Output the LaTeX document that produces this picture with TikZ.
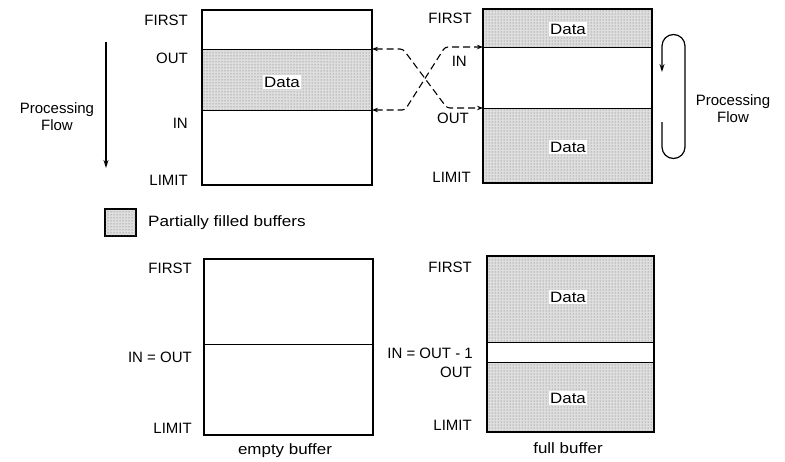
\documentclass[tikz,border=0pt]{standalone}
\usepackage{fontspec}
\setmainfont{Liberation Sans}
\usetikzlibrary{arrows.meta,patterns}
\begin{document}
\begin{tikzpicture}[x=1pt,y=-1pt,
  lbl/.style={font=\fontsize{15}{17}\selectfont, inner sep=0pt},
  datalbl/.style={font=\fontsize{15}{17}\selectfont, inner sep=1.5pt, fill=white},
  box/.style={draw, line width=1.3pt},
  sep/.style={draw, line width=1pt},
  shade/.style={fill=black!13, postaction={pattern=dots, pattern color=black!60}},
  link/.style={line width=1.1pt, dash pattern=on 7pt off 4pt, rounded corners=3pt, {Stealth[length=6pt,width=4.5pt]}-{Stealth[length=6pt,width=4.5pt]}},
  flow/.style={line width=1.2pt, -{Stealth[length=8pt,width=5pt]}}]
\useasboundingbox (0,0) rectangle (785,461);

% ---------- top-left buffer ----------
\fill[shade] (202,49) rectangle (372,110);
\draw[box] (202,10) rectangle (372,185);
\draw[sep] (202,49) -- (372,49);
\draw[sep] (202,110) -- (372,110);
\node[datalbl] (adata) at (282,82) {\scalebox{1.13}[1]{Data}};
\node[lbl, anchor=east] (afirst) at (188,20) {FIRST};
\node[lbl, anchor=east] (aout) at (188,58) {OUT};
\node[lbl, anchor=east] (ain) at (188,123) {IN};
\node[lbl, anchor=east] (alimit) at (188,180) {LIMIT};
\node[lbl, align=center] (aflow) at (57,117) {Processing\\Flow};
\coordinate (aflowtop) at (106,42);
\coordinate (aflowbot) at (106,168);
\draw[flow] (aflowtop) -- (aflowbot);

% ---------- top-right buffer ----------
\fill[shade] (483,9) rectangle (652,47);
\fill[shade] (483,108) rectangle (652,183);
\draw[box] (483,9) rectangle (652,183);
\draw[sep] (483,47) -- (652,47);
\draw[sep] (483,108) -- (652,108);
\node[datalbl] (bdata1) at (568,29) {\scalebox{1.13}[1]{Data}};
\node[datalbl] (bdata2) at (568,147) {\scalebox{1.13}[1]{Data}};
\node[lbl, anchor=east] (bfirst) at (472,18) {FIRST};
\node[lbl, anchor=east] (bin) at (467,61) {IN};
\node[lbl, anchor=east] (bout) at (469,118) {OUT};
\node[lbl, anchor=east] (blimit) at (471,177) {LIMIT};
\node[lbl, align=center] (bflow) at (733,109) {Processing\\Flow};
\coordinate (loopstart) at (662,122);
\coordinate (loopend) at (662,72);
\draw[flow] (loopstart) -- (662,147) arc (180:0:11.5) -- (685,46) arc (0:-180:11.5) -- (loopend);

% ---------- dashed links ----------
\coordinate (Aout) at (372,49);
\coordinate (Ain) at (372,110);
\coordinate (Bin) at (483,47);
\coordinate (Bout) at (483,108);
\draw[link] (Aout) -- ++(31,0) -- (447,108) -- (Bout);
\draw[link] (Ain) -- ++(33,0) -- (445,47) -- (Bin);

% ---------- legend ----------
\draw[line width=2.2pt, shade] (105,209) rectangle (136,236);
\node[lbl, anchor=west] (legend) at (148,223) {\scalebox{1.14}[1]{Partially filled buffers}};

% ---------- bottom-left buffer ----------
\draw[box] (204,259) rectangle (373,435);
\draw[sep] (204,344) -- (373,344);
\node[lbl, anchor=east] (cfirst) at (192,268) {FIRST};
\node[lbl, anchor=east] (cinout) at (192,357) {IN = OUT};
\node[lbl, anchor=east] (climit) at (192,428) {LIMIT};
\node[lbl] (cname) at (285,451) {\scalebox{1.13}[1]{empty buffer}};

% ---------- bottom-right buffer ----------
\fill[shade] (487,256) rectangle (654,342);
\fill[shade] (487,362) rectangle (654,432);
\draw[box] (487,256) rectangle (654,432);
\draw[sep] (487,342) -- (654,342);
\draw[sep] (487,362) -- (654,362);
\node[datalbl] (ddata1) at (568,297) {\scalebox{1.13}[1]{Data}};
\node[datalbl] (ddata2) at (568,398) {\scalebox{1.13}[1]{Data}};
\node[lbl, anchor=east] (dfirst) at (472,267) {FIRST};
\node[lbl, anchor=east] (dinout) at (473,353) {IN = OUT - 1};
\node[lbl, anchor=east] (dout) at (472,372) {OUT};
\node[lbl, anchor=east] (dlimit) at (472,425) {LIMIT};
\node[lbl] (dname) at (568,448) {\scalebox{1.13}[1]{full buffer}};
\end{tikzpicture}
\end{document}
